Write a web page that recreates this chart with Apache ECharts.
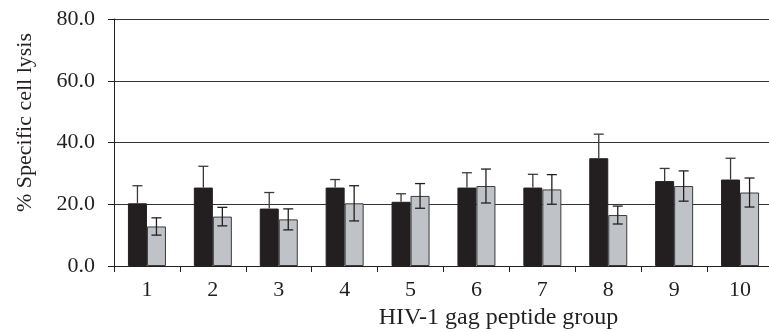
<!DOCTYPE html>
<html>
<head>
<meta charset="utf-8">
<script src="https://cdn.jsdelivr.net/npm/echarts@6/dist/echarts.min.js"></script>
<style>html,body{margin:0;padding:0;background:#fff}#c{width:769px;height:332px}</style>
</head>
<body>
<div id="c"></div>
<script>
const categories = ['1','2','3','4','5','6','7','8','9','10'];
const blackValues = [20.3, 25.4, 18.6, 25.4, 20.8, 25.4, 25.4, 34.9, 27.5, 28.0];
const blackErrors = [5.7, 6.9, 5.2, 2.6, 2.6, 4.8, 4.3, 7.8, 4.1, 6.9];
const greyValues = [12.8, 16.0, 15.1, 20.3, 22.7, 25.9, 24.8, 16.5, 25.9, 23.8];
const greyErrors = [2.8, 3.0, 3.4, 5.7, 4.0, 5.5, 4.8, 2.9, 4.9, 4.7];
const yTicks = [0, 20, 40, 60, 80];

const FONT = 'Liberation Serif';
const BAR_W = 19;

function errSeries(values, errors, side, color, upOnly) {
  return {
    type: 'custom',
    z: 5,
    data: values.map((v, i) => [i, v, errors[i]]),
    renderItem: function (params, api) {
      const i = api.value(0), v = api.value(1), e = api.value(2);
      const c = api.coord([i, v]);
      const x = c[0] + side * BAR_W / 2;
      const top = api.coord([i, v + e])[1];
      const bot = upOnly ? c[1] : api.coord([i, v - e])[1];
      const hw = 5;
      const st = { stroke: color, lineWidth: 1.3 };
      const children = [
        { type: 'line', shape: { x1: x, y1: top, x2: x, y2: bot }, style: st },
        { type: 'line', shape: { x1: x - hw, y1: top, x2: x + hw, y2: top }, style: st }
      ];
      if (!upOnly) children.push({ type: 'line', shape: { x1: x - hw, y1: bot, x2: x + hw, y2: bot }, style: st });
      return { type: 'group', children: children };
    }
  };
}

const chart = echarts.init(document.getElementById('c'));
chart.setOption({
  animation: false,
  grid: { left: 114, right: -4, top: 19, bottom: 66, containLabel: false, outerBoundsMode: 'none' },
  xAxis: {
    type: 'category',
    data: categories,
    name: 'HIV-1 gag peptide group',
    nameLocation: 'middle',
    nameGap: 40,
    nameTextStyle: { fontFamily: FONT, fontSize: 24, color: '#231f20', padding: [0, 0, 0, 110] },
    axisLine: { lineStyle: { color: '#231f20', width: 1 } },
    axisTick: { show: true, length: 6, lineStyle: { color: '#231f20' } },
    axisLabel: { fontFamily: FONT, fontSize: 22, color: '#231f20', margin: 13 }
  },
  yAxis: {
    type: 'value',
    min: 0, max: 80, interval: 20,
    name: '% Specific cell lysis',
    nameLocation: 'middle',
    nameGap: 78,
    nameTextStyle: { fontFamily: FONT, fontSize: 22, color: '#231f20', padding: [0, 0, 0, 40] },
    axisLine: { show: true, lineStyle: { color: '#231f20', width: 1 } },
    axisTick: { show: true, length: 6, lineStyle: { color: '#231f20' } },
    axisLabel: { fontFamily: FONT, fontSize: 22, color: '#231f20', margin: 19,
      formatter: v => yTicks.includes(v) ? v.toFixed(1) : '' },
    splitLine: { show: true, lineStyle: { color: '#333', width: 1 } }
  },
  series: [
    { type: 'bar', data: blackValues, barWidth: BAR_W, barGap: '0%',
      itemStyle: { color: '#231f20', borderColor: '#231f20', borderWidth: 1 } },
    { type: 'bar', data: greyValues, barWidth: BAR_W, barGap: '0%',
      itemStyle: { color: '#bfc3c8', borderColor: '#3a3a3a', borderWidth: 1 } },
    errSeries(blackValues, blackErrors, -1, '#3a3a3a', true),
    errSeries(greyValues, greyErrors, 1, '#231f20', false)
  ]
});
</script>
</body>
</html>
